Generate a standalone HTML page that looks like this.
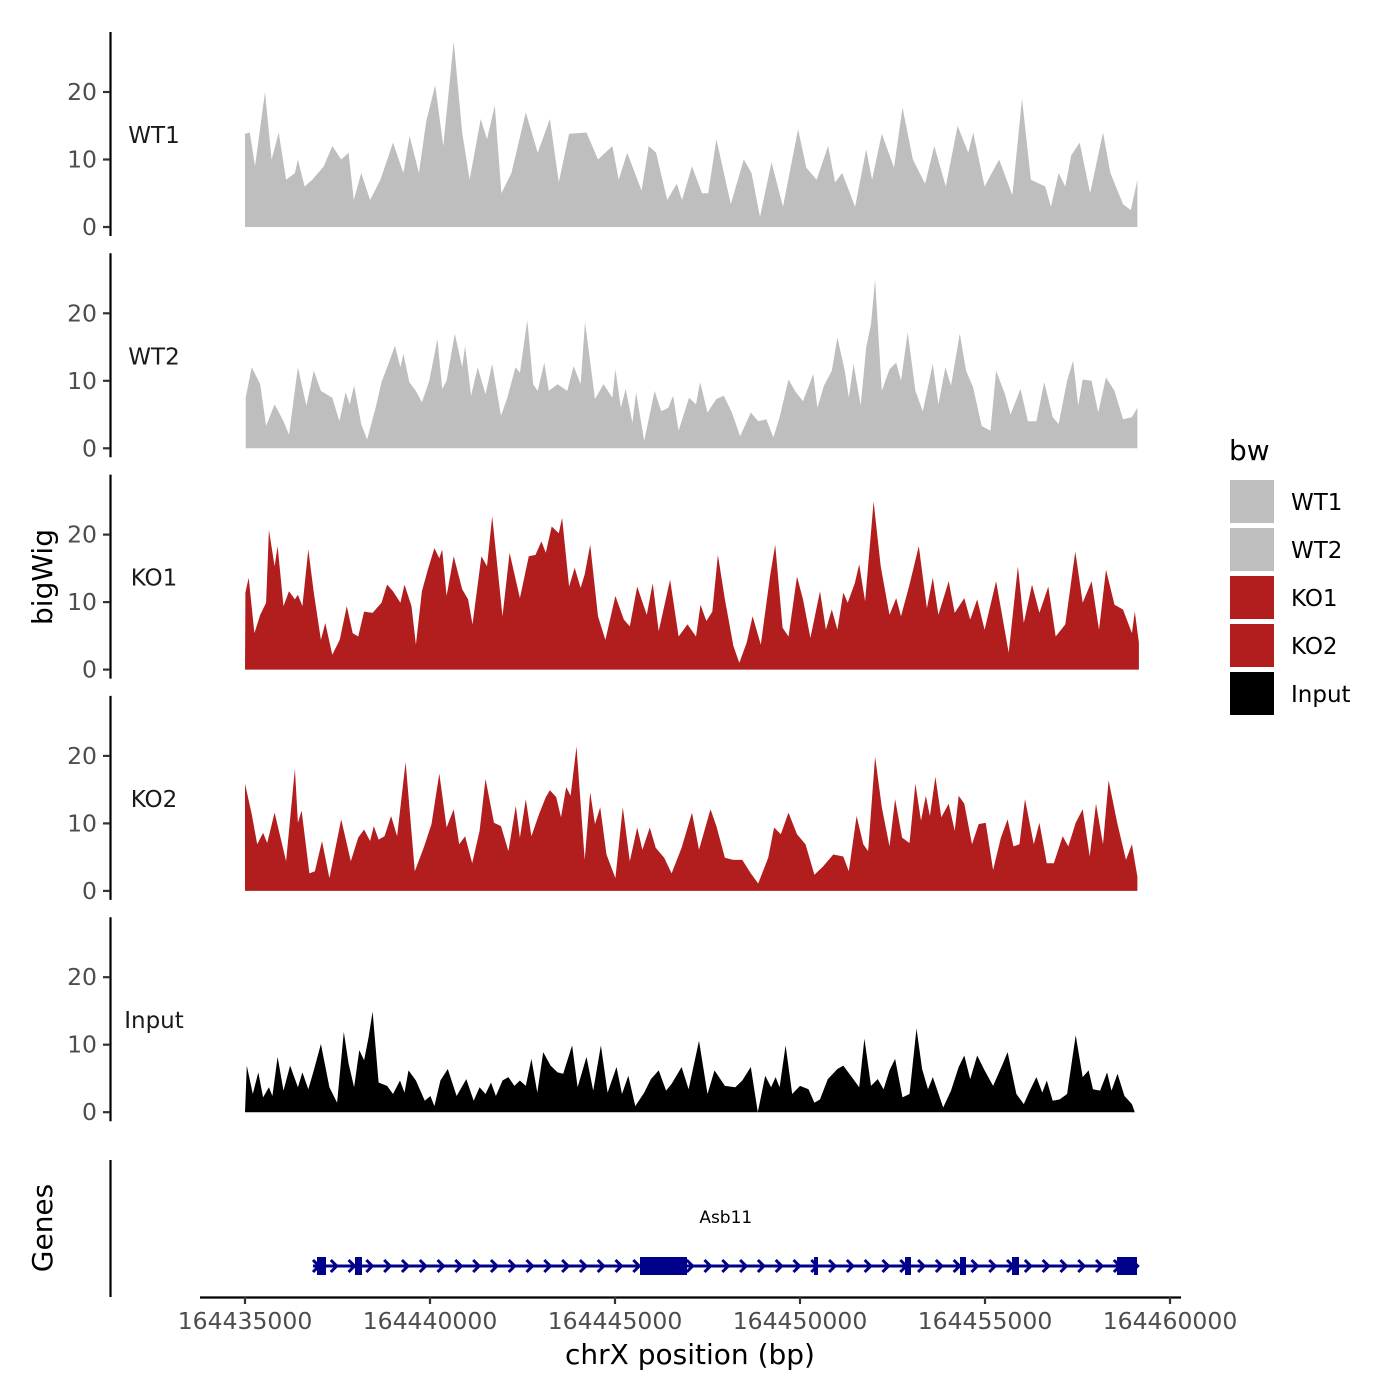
<!DOCTYPE html>
<html><head><meta charset="utf-8"><style>
html,body{margin:0;padding:0;background:#fff;}
svg{display:block;font-family:"DejaVu Sans","Liberation Sans",sans-serif;}
</style></head><body>
<svg id="chart" width="1400" height="1400" viewBox="0 0 1400 1400" xmlns="http://www.w3.org/2000/svg">
<rect x="0" y="0" width="1400" height="1400" fill="#fff"/>
<text x="0" y="0" transform="translate(52,577) rotate(-90)" text-anchor="middle" font-size="28" fill="#000">bigWig</text>
<text x="0" y="0" transform="translate(52,1228) rotate(-90)" text-anchor="middle" font-size="28" fill="#000">Genes</text>
<text x="690" y="1364" text-anchor="middle" font-size="28" fill="#000">chrX position (bp)</text>
<text x="1229" y="460" font-size="28" fill="#000">bw</text>
<g id="tracks"></g>
<g id="genes"></g>
<g id="xaxis"></g>
<g id="legend"></g>
</svg>
<script>
const seriesNames = ["WT1","WT2","KO1","KO2","Input"];
const seriesColors = ["#bebebe","#bebebe","#b21e1e","#b21e1e","#000000"];
const yTicks = [0,10,20];
const xTicks = [164435000,164440000,164445000,164450000,164455000,164460000];
const seriesOrigin = 164435000;
// genomic offsets (bp from seriesOrigin) of each sample
const wt1Pos = [0,130,270,540,720,910,1110,1350,1430,1610,1820,2130,2360,2600,2800,2940,3140,3380,3660,4000,4280,4450,4700,4900,5140,5360,5640,5870,6070,6370,6540,6750,6930,7200,7590,7910,8240,8480,8760,9230,9540,9930,10100,10330,10720,10910,11110,11410,11670,11810,12080,12350,12520,12740,13130,13480,13690,13920,14230,14540,14950,15170,15450,15760,15950,16140,16490,16790,16950,17210,17540,17770,18050,18380,18630,18940,19260,19550,19680,19990,20380,20740,21000,21240,21630,21780,21990,22170,22330,22560,22840,23190,23390,23730,23940,24120];
const wt1 = [13.8,14,9,20,10,14,7,8,10,6,7,9,12,10,11,4,8,4,7,12.5,8,13.5,8,15.7,21,12,27.5,14,7,16,13,18,5,8,17,11,16,6.6,13.8,14,10,12,7,11,5.4,12,11,4,6.4,4,9,5,5,13,3.4,10,8,1.5,9.6,3,14.5,8.8,7,12,6.6,8,3,11.5,7,13.8,8.8,17.7,10,6.4,12,6,15,11,14,6,10,4.7,19,7,6,3,8,6,10.6,12.5,5,14,8,3.4,2.5,7];
const wt2Pos = [20,180,410,570,800,1040,1190,1430,1660,1860,2050,2360,2550,2720,2830,2950,3140,3300,3530,3690,3890,4050,4200,4280,4440,4620,4780,4980,5200,5330,5450,5670,5870,5950,6110,6290,6500,6680,6920,7090,7310,7430,7630,7790,7910,8090,8210,8450,8710,8880,9070,9190,9460,9690,9930,10010,10160,10290,10470,10570,10790,11070,11250,11440,11570,11720,12000,12190,12300,12500,12740,12940,13160,13380,13670,13870,14090,14280,14450,14690,14890,15080,15360,15470,15650,15860,16010,16210,16320,16450,16640,16790,16920,17030,17210,17420,17600,17730,17910,18120,18320,18590,18740,18930,19080,19320,19490,19680,19910,20150,20300,20540,20690,20960,21160,21390,21600,21830,21990,22220,22380,22520,22640,22880,23060,23270,23500,23730,23970,24120];
const wt2 = [7.5,12,9.5,3.3,6.5,4,2,12,6.3,11.5,8.5,7.5,4,8.3,6.5,9.3,3.6,1.3,6,9.8,12.7,15.2,12,14,9.8,8.5,6.8,10,16.2,8.8,10,17,12,15.2,7.8,12,8,12.5,4.8,7.5,12,11.2,19,9.5,8.5,12.7,8.5,9.5,8.5,12.2,9.5,18.7,7.3,9.5,7.5,11.7,6,8.8,3.8,8.3,1.1,8.5,5.5,6,7.8,2.6,7.5,6.5,9.8,5.3,7.3,7.8,5.3,1.8,5.3,4,4.3,1.6,4.6,10.2,8.3,7,11,6,9.3,11.5,16.4,11.5,7.5,12.5,6.3,15,18.4,25,8.5,11.7,12.7,10,17.2,8.5,5.5,12.5,6.5,12,9.3,17,11.5,9,3.3,2.6,11.5,8,5,8.8,4,4,9.8,4.6,3.6,10,13,6.3,10.2,10,5.3,10.5,8.5,4.3,4.6,6];
const ko1Pos = [0,10,100,255,410,570,645,800,880,1040,1190,1350,1430,1550,1710,1860,2050,2170,2360,2560,2750,2910,3060,3220,3450,3690,3840,4000,4200,4310,4500,4620,4780,4940,5120,5250,5330,5450,5640,5870,6030,6150,6390,6540,6680,6960,7150,7430,7670,7850,8010,8130,8290,8480,8570,8760,8910,9070,9180,9330,9540,9740,10010,10240,10400,10600,10860,11020,11180,11490,11720,11960,12190,12310,12470,12630,12780,12970,13200,13360,13560,13720,13940,14190,14330,14530,14690,14920,15080,15280,15540,15700,15860,16010,16170,16290,16480,16600,16760,16990,17180,17420,17600,17730,17960,18210,18430,18590,18740,19020,19180,19440,19600,19790,19990,20300,20640,20890,21050,21270,21470,21710,21910,22170,22440,22640,22880,23080,23270,23500,23730,23970,24050,24160];
const ko1 = [0,11.4,13.6,5.4,8.1,9.9,20.7,15.3,18.3,9.4,11.6,10.4,11.1,9.4,17.8,11.4,4.4,6.9,2.2,4.4,9.4,5.4,4.9,8.6,8.4,9.9,12.6,11.6,9.9,12.6,9.4,3.7,11.6,14.8,18,16.5,17.8,10.9,16.8,11.9,10.4,6.7,16.8,15.3,22.7,7.9,17.3,10.6,16.8,17,19,17.3,21.2,20.2,22.5,12.3,15.1,12.1,14.1,18.5,7.9,4.4,10.9,7.4,6.4,12.3,8.1,12.8,5.7,13.3,4.9,6.7,4.9,9.6,7.2,8.6,17,10.4,3.5,1,4,7.9,3.7,13.8,18.5,6.2,4.9,13.8,10.4,4.7,11.6,5.9,8.9,5.9,11.4,9.9,12.8,15.6,10.1,24.9,15.3,8.1,10.6,7.9,12.6,18.3,9.1,13.6,8.1,13.1,8.4,10.6,7.4,10.4,5.9,13.1,2.5,15.3,6.9,12.6,8.4,12.3,4.9,6.7,17.5,9.9,13.1,5.9,14.8,9.6,8.9,5.4,8.6,4];
const ko2Pos = [0,180,330,490,600,800,1110,1350,1430,1530,1740,1890,2080,2280,2600,2860,3060,3220,3380,3480,3610,3770,3950,4110,4340,4590,4830,5040,5250,5450,5640,5790,5950,6140,6340,6500,6730,6920,7120,7320,7430,7590,7740,7950,8130,8240,8410,8540,8680,8800,8960,9180,9330,9460,9600,9770,10010,10210,10400,10600,10740,10940,11100,11330,11530,11800,12080,12270,12580,12740,12970,13200,13440,13670,13870,14140,14300,14480,14690,14920,15150,15390,15620,15900,16170,16320,16530,16710,16840,17030,17210,17420,17570,17760,17960,18120,18270,18400,18510,18660,18820,19020,19180,19290,19440,19650,19830,20020,20220,20430,20610,20770,20930,21080,21320,21470,21670,21860,22100,22250,22450,22640,22830,23000,23190,23340,23580,23810,23970,24120];
const ko2 = [15.9,11.4,6.9,8.6,7.1,11.6,4.4,18.1,10.1,11.9,2.6,2.9,7.4,1.9,10.6,4.4,7.9,9.1,7.4,9.6,7.6,8.1,11.1,8.1,19.1,2.9,6.4,9.9,17.4,9.4,12.1,6.9,8.1,4.1,8.9,16.6,10.1,9.6,5.9,12.6,7.9,13.6,8.1,11.4,13.9,14.9,13.9,10.9,15.4,14.1,21.4,4.6,14.6,9.9,12.4,5.4,1.9,12.4,4.4,9.4,6.1,9.4,6.4,4.9,2.6,6.4,11.6,6.1,12.1,9.6,4.9,4.6,4.6,2.6,1.1,4.9,9.4,8.4,11.6,8.4,6.9,2.4,3.6,5.4,5.1,2.9,11.1,6.9,5.9,19.9,12.4,6.6,13.6,7.9,7.1,15.9,10.4,14.1,11.1,16.9,10.9,12.9,8.9,14.1,12.9,6.9,9.9,10.1,3.1,7.9,10.6,6.6,6.9,13.6,6.9,10.1,4.1,4.1,8.1,6.6,10.1,12.1,5.1,12.9,6.9,16.4,9.9,4.6,6.9,2.1];
const inputPos = [0,50,210,360,490,645,740,880,1040,1220,1430,1550,1710,1860,2050,2280,2490,2670,2800,2950,3090,3220,3340,3450,3610,3840,4000,4190,4310,4420,4620,4860,5010,5120,5280,5480,5720,5980,6180,6340,6500,6650,6780,6960,7120,7280,7430,7590,7740,7900,8060,8260,8450,8600,8840,8990,9230,9410,9620,9800,10040,10190,10360,10550,10790,10970,11180,11380,11530,11800,11990,12270,12500,12690,12970,13250,13440,13670,13860,14060,14220,14340,14450,14610,14790,15000,15230,15390,15540,15750,16010,16170,16400,16600,16740,16920,17100,17260,17420,17570,17770,17960,18150,18300,18460,18590,18870,19080,19290,19440,19600,19790,19990,20220,20460,20610,20850,21050,21210,21390,21550,21670,21830,22020,22220,22450,22640,22800,22920,23110,23300,23420,23580,23770,23970,24050];
const input = [0,6.9,2.7,5.9,2.2,3.7,2.4,8.2,3.2,6.9,3.7,5.9,3.4,6.2,10.1,3.7,1.4,11.9,7.2,3.7,9.2,7.7,11.1,14.9,4.4,3.9,2.7,4.7,2.9,6.2,4.7,1.7,2.4,0.9,4.7,6.4,2.4,4.9,1.7,3.7,2.7,4.4,2.4,4.7,5.2,3.9,4.7,3.9,7.9,2.9,8.9,6.9,5.9,5.7,9.9,3.7,8.2,3.2,9.9,2.9,6.7,2.7,5.4,0.9,2.9,4.9,6.2,3.2,4.2,6.7,3.4,10.6,2.7,6.2,3.9,3.7,4.7,6.7,0,5.4,3.7,5.2,3.7,9.9,2.7,3.9,3.4,1.4,1.9,4.9,6.4,6.9,5.2,3.7,10.9,3.9,4.9,3.4,6.2,7.9,2.2,2.7,12.4,6.4,3.4,5.2,0.7,3.2,6.7,8.4,4.9,8.4,6.2,3.9,6.9,8.9,2.7,1.2,3.2,5.2,2.9,4.7,1.7,1.9,2.7,11.4,5.2,6.2,3.4,3.2,5.9,3.2,5.7,2.4,1.2,0];
const seriesPositions = [wt1Pos,wt2Pos,ko1Pos,ko2Pos,inputPos];
const seriesValues = [wt1,wt2,ko1,ko2,input];
const geneName = "Asb11";
const geneStart = 164436838;
const geneEnd = 164459150;
const exonStarts = [164436946,164437973,164445676,164450379,164452838,164454324,164455730,164458568];
const exonEnds   = [164437189,164438162,164446946,164450487,164453000,164454486,164455919,164459108];
const arrowStep = 481;

const NS="http://www.w3.org/2000/svg";
function mk(tag, attrs, parent){const e=document.createElementNS(NS,tag);for(const k in attrs)e.setAttribute(k,attrs[k]);parent.appendChild(e);return e;}
const X0=164435000, PX0=245, PXPERBP=185/5000;
function xs(bp){return PX0+(bp-X0)*PXPERBP;}
const panelTop0=32, panelStep=221.3, zeroOff=195, unit=6.75;
function ys(panel,v){return panelTop0+panel*panelStep+zeroOff-v*unit;}

const tracks=document.getElementById('tracks');
seriesNames.forEach((name,i)=>{
  const g=mk('g',{},tracks);
  
  
  const top=panelTop0+i*panelStep;
  const ax=mk('line',{x1:110.5,x2:110.5,y1:top,y2:top+204,stroke:'#000','stroke-width':2.2},g);
  
  
  yTicks.forEach(t=>{
    const y=ys(i,t);
    const tk=mk('line',{x1:103,x2:110,y1:y,y2:y,stroke:'#333','stroke-width':2.2},g);
    
    
    const tl=mk('text',{x:97,y:y+8,'text-anchor':'end','font-size':23.5,fill:'#4d4d4d'},g);
    tl.textContent=t;
    
    
  });
  const lab=mk('text',{x:154,y:top+111,'text-anchor':'middle','font-size':23,fill:'#1a1a1a'},g);
  lab.textContent=name;
  
  
  const vals=seriesValues[i], pos=seriesPositions[i];
  const n=Math.min(vals.length,pos.length);
  let d='M'+xs(seriesOrigin+pos[0]).toFixed(1)+','+ys(i,0).toFixed(1);
  for(let k=0;k<n;k++){d+=' L'+xs(seriesOrigin+pos[k]).toFixed(1)+','+ys(i,vals[k]).toFixed(1);}
  d+=' L'+xs(seriesOrigin+pos[n-1]).toFixed(1)+','+ys(i,0).toFixed(1)+' Z';
  const area=mk('path',{d:d,fill:seriesColors[i],stroke:'none'},g);
  
  
});

// genes panel
const gg=document.getElementById('genes');
const gax=mk('line',{x1:110.5,x2:110.5,y1:1160,y2:1297,stroke:'#000','stroke-width':2.2},gg);


const gy=1266;
const gl=mk('line',{x1:xs(geneStart),x2:xs(geneEnd),y1:gy,y2:gy,stroke:'#00008b','stroke-width':3},gg);


for(let bp=geneStart+80;bp<geneEnd-100;bp+=arrowStep){
  const x=xs(bp);
  const a=mk('polyline',{points:(x-3)+','+(gy-6)+' '+(x+3)+','+gy+' '+(x-3)+','+(gy+6),fill:'none',stroke:'#00008b','stroke-width':3},gg);
  
  
}
exonStarts.forEach((s,k)=>{
  const r=mk('rect',{x:xs(s),y:gy-9,width:Math.max(xs(exonEnds[k])-xs(s),3),height:18,fill:'#00008b'},gg);
  
  
});
const gn=mk('text',{x:xs((geneStart+geneEnd)/2),y:1223,'text-anchor':'middle','font-size':17,fill:'#000'},gg);
gn.textContent=geneName;



// x axis
const xa=document.getElementById('xaxis');
const xl=mk('line',{x1:200,x2:1181,y1:1297.5,y2:1297.5,stroke:'#000','stroke-width':2.2},xa);


xTicks.forEach(t=>{
  const x=xs(t);
  const tk=mk('line',{x1:x,x2:x,y1:1297,y2:1304,stroke:'#333','stroke-width':2.2},xa);
  
  
  const tl=mk('text',{x:x,y:1329,'text-anchor':'middle','font-size':23.5,fill:'#4d4d4d'},xa);
  tl.textContent=t;
  
  
});

// legend
const lg=document.getElementById('legend');
seriesNames.forEach((name,i)=>{
  const y=480+i*48;
  const r=mk('rect',{x:1230,y:y,width:44,height:43,fill:seriesColors[i]},lg);
  
  
  const t=mk('text',{x:1291,y:y+30,'font-size':23,fill:'#000'},lg);
  t.textContent=name;
  
  
});
</script>
</body></html>
